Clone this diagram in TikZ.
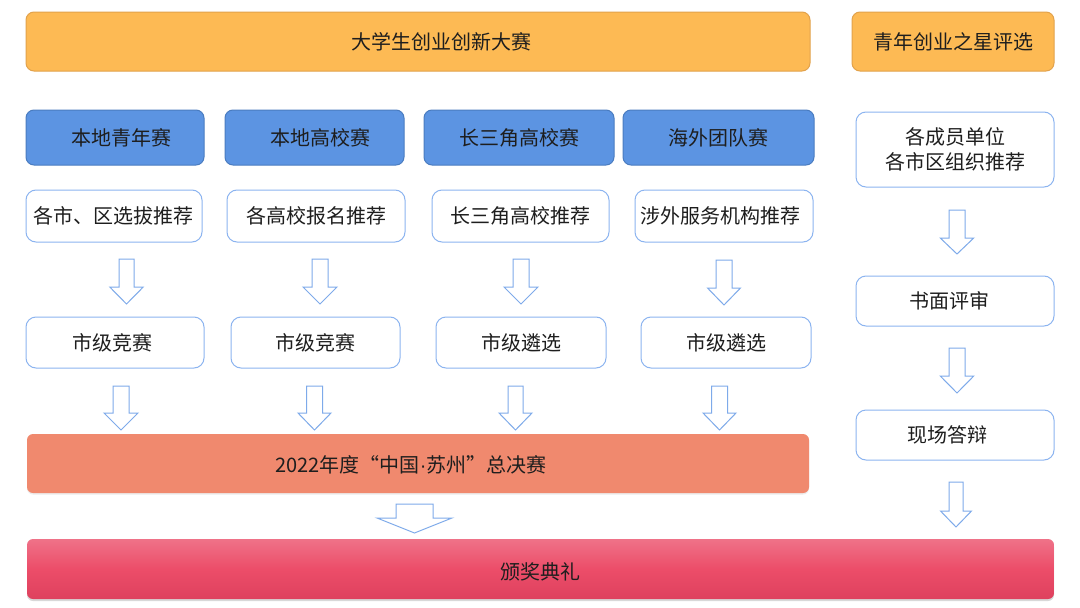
\documentclass[tikz,border=0pt]{standalone}
\usepackage{fontspec}
\setmainfont{Noto Sans CJK SC}
\newfontfamily\latinfont{Liberation Sans}
\usetikzlibrary{shadows}
\definecolor{txt}{HTML}{1E1E1E}
\definecolor{orng}{HTML}{FDBA54}
\definecolor{orngd}{HTML}{E2A24C}
\definecolor{blu}{HTML}{5C94E2}
\definecolor{blud}{HTML}{4A7CC0}
\definecolor{lblue}{HTML}{8CB4F0}
\definecolor{arrc}{HTML}{7EAAEA}
\definecolor{salmon}{HTML}{F0896E}
\definecolor{pkA}{HTML}{EF7288}
\definecolor{pkB}{HTML}{EC4D69}
\definecolor{pkC}{HTML}{DE415E}
\newcommand\blockarr[6]{%
  \draw[blockarrow] ({#1-#5},{#2}) -- ({#1+#5},{#2}) -- ({#1+#5},{#3}) -- ({#1+#6},{#3})
    -- ({#1},{#4}) -- ({#1-#6},{#3}) -- ({#1-#5},{#3}) -- cycle;}
\begin{document}
\begin{tikzpicture}[x=1pt,y=-1pt,
  every node/.style={font=\fontsize{20pt}{25pt}\selectfont, text=txt},
  basebox/.style={rectangle, line width=1pt, inner sep=0pt, align=center},
  orangebox/.style={basebox, fill=orng, draw=orngd, rounded corners=8pt},
  bluebox/.style={basebox, fill=blu, draw=blud, rounded corners=8pt},
  whitebox/.style={basebox, fill=white, draw=lblue, rounded corners=10pt},
  finbox/.style={basebox, fill=salmon, draw=none, rounded corners=6pt,
    drop shadow={opacity=0.15, shadow xshift=0pt, shadow yshift=-1.5pt}},
  awardbox/.style={basebox, top color=pkA, bottom color=pkC, middle color=pkB, draw=none, rounded corners=6pt,
    drop shadow={opacity=0.3, shadow xshift=0pt, shadow yshift=-2pt}},
  blockarrow/.style={draw=arrc, fill=white, line width=1pt, line join=miter}
]
\fill[white] (0,0) rectangle (1080,608);
\useasboundingbox (0,0) rectangle (1080,608);

% top headers
\node[orangebox, minimum width=784pt, minimum height=59pt, label={[xshift=23pt]center:大学生创业创新大赛}] (top) at (418,41.5) {};
\node[orangebox, minimum width=202pt, minimum height=59pt] (star) at (953,41.5) {青年创业之星评选};

% blue row
\node[bluebox, minimum width=178pt, minimum height=55pt, label={[xshift=6pt]center:本地青年赛}] (b1) at (115,137.5) {};
\node[bluebox, minimum width=179pt, minimum height=55pt, label={[xshift=5.5pt]center:本地高校赛}] (b2) at (314.5,137.5) {};
\node[bluebox, minimum width=190pt, minimum height=55pt] (b3) at (519,137.5) {长三角高校赛};
\node[bluebox, minimum width=191pt, minimum height=55pt] (b4) at (718.5,137.5) {海外团队赛};

% second row
\node[whitebox, minimum width=176pt, minimum height=52pt] (w1) at (114,216) {各市、区选拔推荐};
\node[whitebox, minimum width=178pt, minimum height=52pt] (w2) at (316,216) {各高校报名推荐};
\node[whitebox, minimum width=177pt, minimum height=52pt] (w3) at (520.5,216) {长三角高校推荐};
\node[whitebox, minimum width=178pt, minimum height=52pt, label={[xshift=-4pt]center:涉外服务机构推荐}] (w4) at (724,216) {};

% third row
\node[whitebox, minimum width=178pt, minimum height=51pt, label={[xshift=-3pt]center:市级竞赛}] (s1) at (115,342.5) {};
\node[whitebox, minimum width=169pt, minimum height=51pt] (s2) at (315.5,342.5) {市级竞赛};
\node[whitebox, minimum width=170pt, minimum height=51pt] (s3) at (521,342.5) {市级遴选};
\node[whitebox, minimum width=170pt, minimum height=51pt] (s4) at (726,342.5) {市级遴选};

% right column
\node[whitebox, minimum width=198pt, minimum height=75pt] (r1) at (955,149.5) {各成员单位\\各市区组织推荐};
\node[whitebox, minimum width=198pt, minimum height=50pt, label={[xshift=-6pt]center:书面评审}] (r2) at (955,301) {};
\node[whitebox, minimum width=198pt, minimum height=50pt, label={[xshift=-8pt]center:现场答辩}] (r3) at (955,435) {};

% final rows
\node[finbox, minimum width=782pt, minimum height=59pt, label={[xshift=-7pt,yshift=-1.5pt]center:2022年度“中国{\latinfont ·}苏州”总决赛}] (fin) at (418,463.5) {};
\node[awardbox, minimum width=1027pt, minimum height=60pt, label={[yshift=-3pt]center:颁奖典礼}] (award) at (540.5,569) {};

% block arrows: x, top, head base, tip, shaft half width, head half width
\blockarr{126.5}{259}{287}{304}{7.5}{16.75}
\blockarr{320}{259}{287}{304}{8}{17}
\blockarr{521}{259}{287}{304}{8}{17}
\blockarr{724}{260}{288}{305}{8}{16.5}

\blockarr{121}{386}{413}{430}{8}{17}
\blockarr{314.5}{386}{413}{430}{8}{16.5}
\blockarr{515.5}{386}{413}{430}{7.5}{16.5}
\blockarr{719.5}{386}{413}{430}{8}{16.5}

\blockarr{957}{210}{238}{254}{8}{16.75}
\blockarr{957}{348}{376}{393}{8}{16.75}
\blockarr{956}{482}{511}{527}{7}{15.5}

\blockarr{414.5}{504}{518}{533}{18.5}{37.5}
\end{tikzpicture}
\end{document}
